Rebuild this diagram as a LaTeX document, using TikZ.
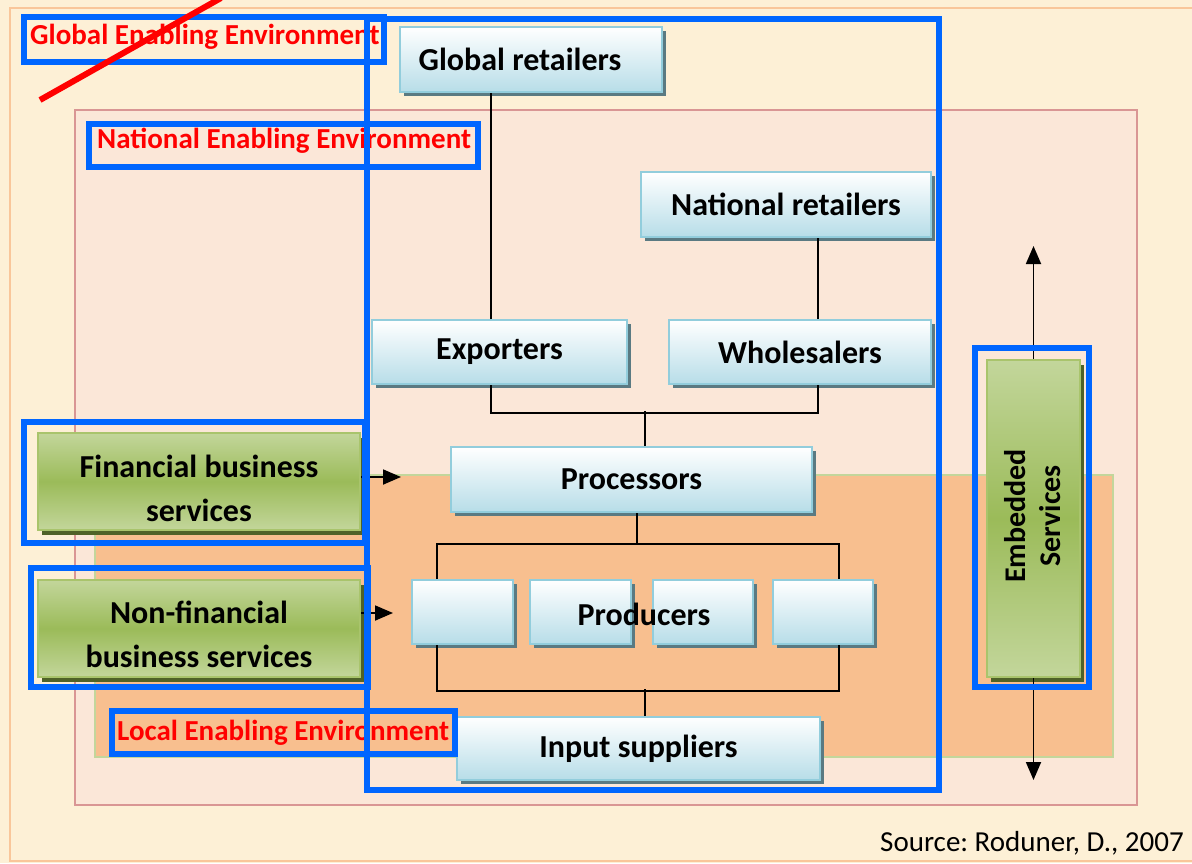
\documentclass[tikz,border=0pt]{standalone}
\usepackage{fontspec}
\setmainfont{Carlito}
\frenchspacing
\usetikzlibrary{arrows.meta,shadows,calc}
\definecolor{bgcream}{HTML}{FDF0D6}
\definecolor{outerline}{HTML}{F9C69A}
\definecolor{natfill}{HTML}{FBE7D8}
\definecolor{natline}{HTML}{D99694}
\definecolor{locfill}{HTML}{F8BF8F}
\definecolor{locline}{HTML}{C3D69B}
\definecolor{hlblue}{HTML}{0066FF}
\definecolor{boxline}{HTML}{92CDDC}
\definecolor{boxfill}{HTML}{B7DDE8}
\definecolor{bshadow}{HTML}{5A7A82}
\definecolor{gtop}{HTML}{C3D69B}
\definecolor{gmid}{HTML}{9BBB59}
\definecolor{gline}{HTML}{A9C46C}
\definecolor{gshadow}{HTML}{4F6228}
\begin{document}
\begin{tikzpicture}[x=1pt,y=-1pt,
  bluebox/.style={draw=boxline, line width=2pt, top color=white, bottom color=boxfill,
    inner sep=0pt, font=\bfseries\fontsize{32}{38}\selectfont,
    drop shadow={shadow xshift=4pt, shadow yshift=-4pt, fill=bshadow, opacity=1}},
  greenbox/.style={draw=gline, line width=2pt, top color=gtop, bottom color=gtop, middle color=gmid,
    inner sep=0pt,
    drop shadow={shadow xshift=4pt, shadow yshift=-5pt, fill=gshadow, opacity=1}},
  gtext/.style={align=center, inner sep=0pt, font=\bfseries\fontsize{32}{44}\selectfont},
  redlbl/.style={text=red, font=\bfseries\fontsize{29}{34}\selectfont, inner sep=0pt, anchor=west},
  hl/.style={draw=hlblue, line width=5.5pt},
  conn/.style={draw=black, line width=1.5pt},
  arr/.style={draw=black, line width=1.8pt, -{Triangle[length=18pt,width=15pt]}}]
\useasboundingbox (0,0) rectangle (1192,863);
\fill[bgcream] (0,0) rectangle (1192,863);
\draw[outerline, line width=2.5pt] (10,8) rectangle (1205,861);
% national and local environments
\draw[natline, fill=natfill, line width=2pt] (75,110) rectangle (1137,805);
\draw[locline, fill=locfill, line width=2pt] (95,475) rectangle (1113,757);
% nodes
\node[bluebox, minimum width=262pt, minimum height=65pt] (glob) at (531,59.5) {};
\node[font=\bfseries\fontsize{32}{38}\selectfont, inner sep=0pt] (globtxt) at (520,59.5) {Global retailers};
\node[bluebox, minimum width=290pt, minimum height=65pt] (natr) at (786,204.5) {National retailers};
\node[bluebox, minimum width=255pt, minimum height=64pt] (exp) at (499.5,352) {Exporters};
\node[bluebox, minimum width=262pt, minimum height=64pt] (wh) at (800,352) {Wholesalers};
\node[bluebox, minimum width=361pt, minimum height=65pt] (proc) at (631.5,479.5) {Processors};
\node[bluebox, minimum width=101pt, minimum height=64pt] (p1) at (462.5,612) {};
\node[bluebox, minimum width=101pt, minimum height=64pt] (p2) at (580.5,612) {};
\node[bluebox, minimum width=100pt, minimum height=64pt] (p3) at (703,612) {};
\node[bluebox, minimum width=100pt, minimum height=64pt] (p4) at (823,612) {};
\node[font=\bfseries\fontsize{32}{38}\selectfont, inner sep=0pt] (prodtxt) at (644,614) {Producers};
\node[bluebox, minimum width=363pt, minimum height=63pt] (inp) at (638.5,748.5) {Input suppliers};
\node[greenbox, minimum width=322pt, minimum height=97pt] (fin) at (199,481.5) {};
\node[gtext] (fintxt) at (199,488) {Financial business\\services};
\node[greenbox, minimum width=322pt, minimum height=97pt] (nfin) at (199,628.5) {};
\node[gtext] (nfintxt) at (199,634) {Non-financial\\business services};
\node[greenbox, minimum width=93pt, minimum height=317pt] (emb) at (1033.5,518.5) {};
\node[rotate=90, align=center, inner sep=0pt, font=\bfseries\fontsize{30}{35}\selectfont] (embtxt) at (1033,516) {Embedded\\Services};
% connectors
\draw[conn] ([xshift=-8.5pt]exp.north) -- ([xshift=-8.5pt]exp.north |- glob.south);
\draw[conn] ([xshift=18pt]wh.north) -- ([xshift=18pt]wh.north |- natr.south);
\draw[conn] ([xshift=-8.5pt]exp.south) -- ++(0,28) -| ([xshift=18pt]wh.south);
\draw[conn] ([xshift=13.5pt]proc.north) -- ++(0,-35);
\draw[conn] ([xshift=5.5pt]proc.south) -- ++(0,31) coordinate (pj);
\draw[conn] ([xshift=-25.5pt]p1.north) |- (pj) -| ([xshift=16pt]p4.north);
\draw[conn] ([xshift=-25.5pt]p1.south) -- ++(0,46) -| ([xshift=16pt]p4.south);
\draw[conn] ([xshift=6.5pt]inp.north) -- ++(0,-27);
\draw[arr] ([yshift=4.5pt]fin.east) -- ++(40,0);
\draw[arr] ([yshift=15.5pt]nfin.east) -- ++(32,0);
\draw[arr] (emb.north) -- ++(0,-113);
\draw[arr] (emb.south) -- ++(0,102);
% red labels
\node[redlbl] (gee) at (30,37) {Global Enabling Environment};
\node[redlbl] (nee) at (97,141) {National Enabling Environment};
\node[redlbl] (lee) at (117,733) {Local Enabling Environment};
% blue highlight outlines
\draw[hl] (24,17) rectangle (384,62);
\draw[hl] (89,124) rectangle (478,167);
\draw[hl] (112,711) rectangle (455,754);
\draw[hl] (367,19) rectangle (939,790);
\draw[hl] (24,422) rectangle (365,543);
\draw[hl] (31,568) rectangle (368,687);
\draw[hl] (975,348) rectangle (1089,687);
% red strike line
\coordinate (s1) at (40,100);
\coordinate (s2) at (221,-2);
\draw[red, line width=6pt] (s1) -- (s2);
% source
\node[anchor=east, inner sep=0pt, font=\fontsize{29}{33}\selectfont] (src) at (1184,843) {Source: Roduner, D., 2007};
\end{tikzpicture}
\end{document}
